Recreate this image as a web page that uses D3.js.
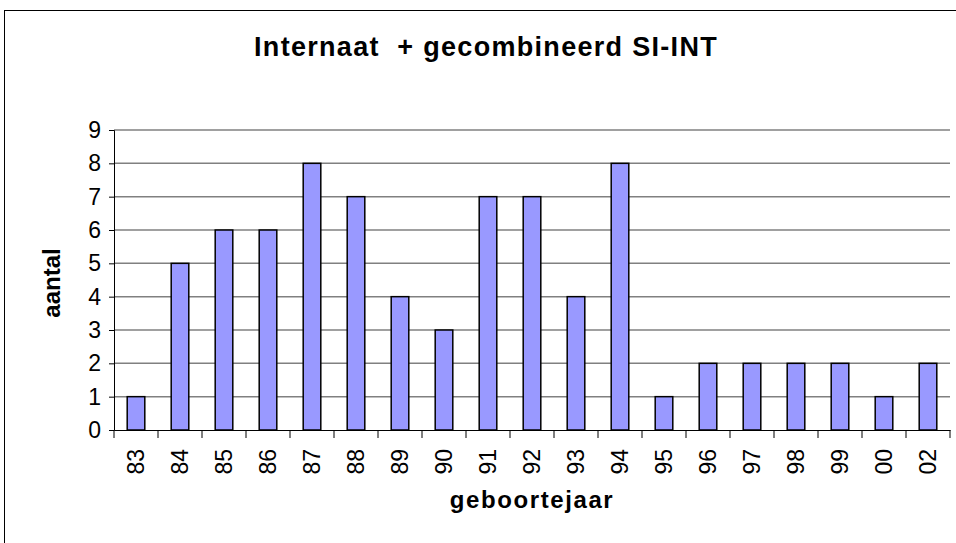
<!DOCTYPE html>
<html>
<head>
<meta charset="utf-8">
<script src="https://cdn.jsdelivr.net/npm/d3@7"></script>
<style>
  body { margin: 0; background: #fff; }
  svg { display: block; font-family: Arial, "Liberation Sans", sans-serif; }
</style>
</head>
<body>
<svg id="chart"></svg>
<script>
// chart data
const jaren = ["83", "84", "85", "86", "87", "88", "89", "90", "91", "92", "93", "94", "95", "96", "97", "98", "99", "00", "02"];
const aantallen = [1, 5, 6, 6, 8, 7, 4, 3, 7, 7, 4, 8, 1, 2, 2, 2, 2, 1, 2];
const yTicks = [0, 1, 2, 3, 4, 5, 6, 7, 8, 9];

const width = 956;
const height = 543;
const plot = { left: 114, right: 950, top: 130, bottom: 430 };

const svg = d3.select("#chart")
    .attr("width", width)
    .attr("height", height);

// buitenrand
svg.append("rect")
    .attr("x", 4.5).attr("y", 10.5)
    .attr("width", width + 10).attr("height", height + 10)
    .attr("fill", "none").attr("stroke", "#000").attr("stroke-width", 1);

const x = d3.scaleBand()
    .domain(jaren)
    .range([plot.left, plot.right])
    .paddingInner(0.6)
    .paddingOuter(0.3);

const xTick = d3.scaleBand()
    .domain(jaren)
    .range([plot.left, plot.right]);

const y = d3.scaleLinear()
    .domain([0, 9])
    .range([plot.bottom, plot.top]);

// rasterlijnen
svg.append("g")
    .selectAll("line")
    .data(yTicks.filter(d => d > 0))
    .enter().append("line")
    .attr("x1", plot.left).attr("x2", plot.right)
    .attr("y1", d => y(d)).attr("y2", d => y(d))
    .attr("stroke", "#808080").attr("stroke-width", 1.5);

// staven
svg.append("g")
    .selectAll("rect")
    .data(aantallen)
    .enter().append("rect")
    .attr("x", (d, i) => x(jaren[i]))
    .attr("y", d => y(d))
    .attr("width", x.bandwidth())
    .attr("height", d => y(0) - y(d))
    .attr("fill", "#9999ff")
    .attr("stroke", "#000")
    .attr("stroke-width", 1.5);

// y-as
const yAxis = svg.append("g")
    .attr("transform", `translate(${plot.left},0)`)
    .call(d3.axisLeft(y).tickValues(yTicks).tickSize(5).tickPadding(8));
yAxis.selectAll("text").attr("font-size", 23).attr("fill", "#000");
yAxis.selectAll("line, path").attr("stroke", "#000");

// x-as
const xAxis = svg.append("g")
    .attr("transform", `translate(0,${plot.bottom})`)
    .call(d3.axisBottom(xTick).tickValues([]).tickSizeOuter(0));
xAxis.select("path").attr("stroke", "#000").attr("stroke-width", 1.2);

svg.append("g")
    .selectAll("line")
    .data(d3.range(jaren.length + 1))
    .enter().append("line")
    .attr("x1", i => plot.left + i * xTick.step())
    .attr("x2", i => plot.left + i * xTick.step())
    .attr("y1", plot.bottom).attr("y2", plot.bottom + 8)
    .attr("stroke", "#000");

svg.append("g")
    .selectAll("text")
    .data(jaren)
    .enter().append("text")
    .attr("transform", d => `translate(${xTick(d) + xTick.bandwidth() / 2 + 8},${plot.bottom + 19}) rotate(-90)`)
    .attr("text-anchor", "end")
    .attr("font-size", 23)
    .text(d => d);

// titels
svg.append("text")
    .attr("x", 486).attr("y", 56)
    .attr("text-anchor", "middle")
    .attr("font-size", 27).attr("font-weight", "bold")
    .attr("letter-spacing", 1.3)
    .attr("xml:space", "preserve")
    .style("white-space", "pre")
    .text("Internaat  + gecombineerd SI-INT");

svg.append("text")
    .attr("x", 532).attr("y", 508)
    .attr("text-anchor", "middle")
    .attr("font-size", 24).attr("font-weight", "bold")
    .attr("letter-spacing", 1.6)
    .text("geboortejaar");

svg.append("text")
    .attr("transform", "translate(60,283) rotate(-90)")
    .attr("text-anchor", "middle")
    .attr("font-size", 24).attr("font-weight", "bold")
    .text("aantal");
</script>
</body>
</html>
